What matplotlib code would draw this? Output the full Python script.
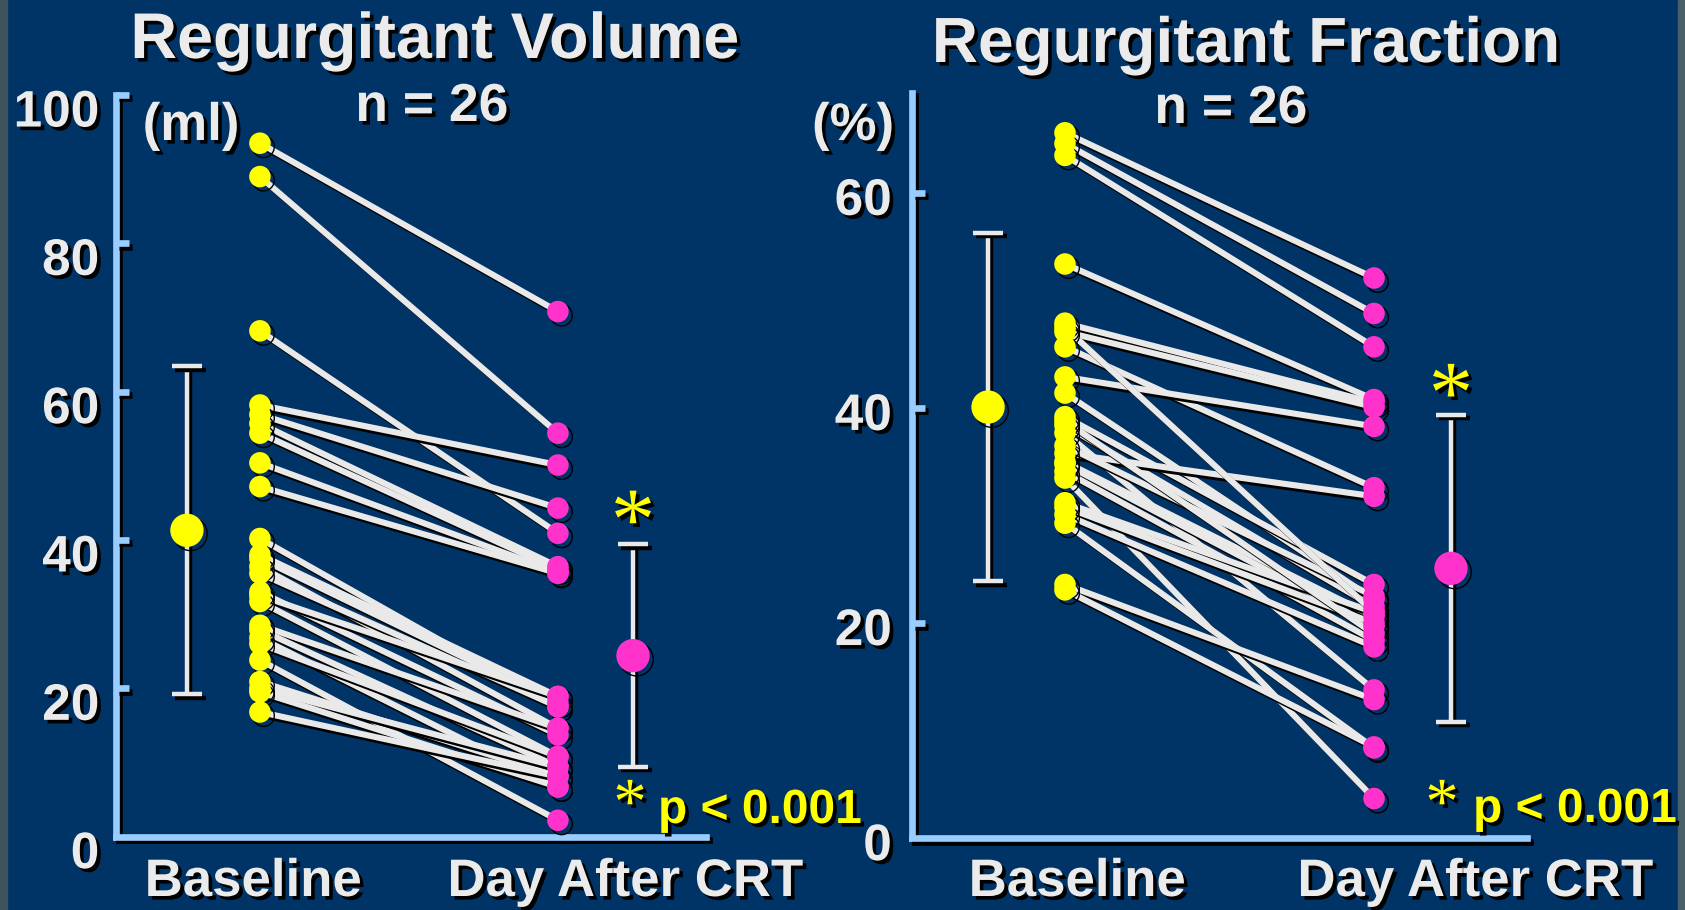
import matplotlib
matplotlib.use("Agg")
import matplotlib.pyplot as plt
import matplotlib.patheffects as pe
from matplotlib.patches import Rectangle

# ---- data -------------------------------------------------------------
categories = ["Baseline", "Day After CRT"]

# regurgitant volume (ml), paired per patient
rv_base = [93.5, 89.0, 68.2, 58.2, 56.9, 55.7, 54.4, 50.4, 47.2,
           40.2, 38.0, 37.5, 36.4, 35.5, 33.0, 32.5, 31.7, 28.5,
           27.9, 26.8, 26.0, 23.8, 20.9, 20.0, 19.5, 16.8]
rv_after = [70.8, 54.4, 40.9, 50.1, 44.3, 36.4, 36.0, 35.6, 35.5,
            17.5, 18.9, 18.0, 14.6, 17.5, 13.7, 18.9, 10.8, 14.6,
            9.4, 6.7, 10.8, 2.2, 8.1, 9.4, 6.7, 8.1]
rv_mean = [41.3, 24.4]
rv_sd = [22.1, 15.0]

# regurgitant fraction (%), paired per patient
rf_base = [65.6, 64.6, 63.5, 53.4, 47.9, 47.1, 45.7, 42.9, 41.4,
           39.2, 38.4, 37.7, 35.8, 35.0, 34.8, 34.1, 33.5, 31.2,
           30.8, 30.1, 29.3, 36.5, 38.8, 23.6, 23.1, 47.5]
rf_after = [52.1, 48.8, 45.7, 40.8, 40.5, 40.1, 32.6, 38.3, 22.2,
            23.6, 21.5, 13.8, 31.8, 20.6, 19.7, 18.4, 3.7, 21.0,
            20.0, 17.8, 8.4, 22.5, 19.0, 12.9, 8.5, 21.0]
rf_mean = [40.1, 25.1]
rf_sd = [16.2, 14.3]

rv_ticks = [0, 20, 40, 60, 80, 100]
rf_ticks = [0, 20, 40, 60]

# ---- style -------------------------------------------------------------
NAVY = "#003366"
AXIS = "#99ccff"
WHITE = "#ebebeb"
YELLOW = "#ffff00"
PINK = "#ff33cc"
FONT = ["Liberation Sans", "DejaVu Sans"]
STAR_FONT = ["Liberation Serif", "DejaVu Serif"]

W, H = 1685, 910
fig = plt.figure(figsize=(W / 100, H / 100), dpi=100, facecolor=NAVY)

# textured border strips at both sides
fig.patches.append(Rectangle((0, 0), 7 / W, 1, transform=fig.transFigure,
                             color="#3e545c", zorder=0))
fig.patches.append(Rectangle(((W - 7) / W, 0), 7 / W, 1, transform=fig.transFigure,
                             color="#4a6068", zorder=0))

txt_shadow = [pe.withSimplePatchShadow(offset=(2.6, -2.6), shadow_rgbFace="black", alpha=1.0)]
line_shadow = [pe.SimpleLineShadow(offset=(2.4, -2.4), shadow_color="black", alpha=1.0, rho=0),
               pe.Normal()]
dot_shadow = [pe.SimpleLineShadow(offset=(2.6, -2.6), shadow_color="black", alpha=1.0, rho=0),
              pe.Normal()]


def px(x, y):
    """pixel position (from top-left) -> figure fraction"""
    return x / W, 1 - y / H


def ftext(x, y, s, size, color=WHITE, ha="center", va="baseline",
          family=FONT, weight="bold"):
    fx, fy = px(x, y)
    fig.text(fx, fy, s, fontsize=size, color=color, ha=ha, va=va,
             family=family, fontweight=weight, path_effects=txt_shadow)


def make_panel(rect_px, xlim, ylim, ticks, tick_dx, tick_dy, base, after,
               mean, sd, mean_x, star_y):
    left, right, top, bottom = rect_px
    fl, fb = px(left, bottom)
    fr, ft = px(right, top)
    ax = fig.add_axes([fl, fb, fr - fl, ft - fb])
    ax.set_facecolor("none")
    ax.set_xlim(*xlim)
    ax.set_ylim(*ylim)
    for side in ("top", "right"):
        ax.spines[side].set_visible(False)
    for side in ("left", "bottom"):
        sp = ax.spines[side]
        sp.set_color(AXIS)
        sp.set_linewidth(4.8)
        sp.set_capstyle("projecting")
        sp.set_path_effects(line_shadow)
        sp.set_zorder(1)
    ax.set_xticks([])
    ax.set_yticks([t for t in ticks if t > 0])
    ax.tick_params(axis="y", direction="in", length=9, width=4.8,
                   color=AXIS, labelleft=False)
    for t in ax.yaxis.get_major_ticks():
        t.tick1line.set_path_effects(line_shadow)

    # tick labels
    for t in ticks:
        ax.annotate(str(t), xy=(0, t), xycoords=("axes fraction", "data"),
                    xytext=(-tick_dx, -tick_dy), textcoords="offset points",
                    ha="right", va="center", fontsize=37, color=WHITE,
                    family=FONT, fontweight="bold", path_effects=txt_shadow,
                    annotation_clip=False)

    # paired lines
    for b, a in zip(base, after):
        ax.plot([1, 2], [b, a], color="#e9e9e9", lw=4.4, solid_capstyle="butt",
                path_effects=line_shadow, zorder=3)
    # individual points
    ax.plot([1] * len(base), base, "o", ms=15.5, color=YELLOW, mec="none",
            path_effects=dot_shadow, zorder=4, clip_on=False)
    ax.plot([2] * len(after), after, "o", ms=15.5, color=PINK, mec="none",
            path_effects=dot_shadow, zorder=4, clip_on=False)

    # mean +/- SD
    for x, m, s, c in zip(mean_x, mean, sd, [YELLOW, PINK]):
        eb = ax.errorbar([x], [m], yerr=[s], fmt="none", ecolor="#e9e9e9",
                         elinewidth=3.2, capsize=11, capthick=3.2, zorder=5)
        for part in eb.lines[1] + eb.lines[2]:
            part.set_path_effects(line_shadow)
        ax.plot([x], [m], "o", ms=24, color=c, mec="none",
                path_effects=dot_shadow, zorder=6)

    # significance star above the post-CRT error bar
    ax.annotate("*", xy=(mean_x[1], star_y), xycoords="data",
                ha="center", va="center", fontsize=64, color=YELLOW,
                family=STAR_FONT, path_effects=txt_shadow,
                annotation_clip=False)
    return ax


# left panel: regurgitant volume
make_panel((116, 706, 95, 836.6), (0.517, 2.497), (0, 100), rv_ticks, 12.0, 13.0,
           rv_base, rv_after, rv_mean, rv_sd, [0.755, 2.252], 41.7)

# right panel: regurgitant fraction
make_panel((912, 1527, 93, 838.3), (0.505, 2.495), (0, 69.3), rf_ticks, 14.5, 6.0,
           rf_base, rf_after, rf_mean, rf_sd, [0.751, 2.249], 40.7)

# titles and annotations
ftext(435, 58, "Regurgitant Volume", 46.5)
ftext(1246, 62, "Regurgitant Fraction", 46)
ftext(432, 121, "n = 26", 38.5)
ftext(1231, 123, "n = 26", 38.5)
ftext(191, 126, "(ml)", 38, va="center")
ftext(853, 126, "(%)", 38, va="center")

ftext(253, 896, categories[0], 38)
ftext(625, 896, categories[1], 38)
ftext(1077, 896, categories[0], 38)
ftext(1475, 896, categories[1], 38)

ftext(658, 823, "p < 0.001", 34.5, color=YELLOW, ha="left")
ftext(1473, 822, "p < 0.001", 34.5, color=YELLOW, ha="left")
ftext(630, 807, "*", 48, color=YELLOW, va="center", family=STAR_FONT, weight="normal")
ftext(1442, 807, "*", 48, color=YELLOW, va="center", family=STAR_FONT, weight="normal")

fig.savefig("out.png", dpi=100, facecolor=NAVY)
